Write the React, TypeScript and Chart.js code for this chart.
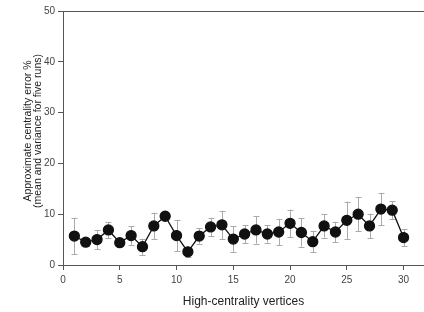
import React, { useEffect, useRef } from "react";
import { Chart, registerables } from "chart.js";

Chart.register(...registerables);

const vertices = [1,2,3,4,5,6,7,8,9,10,11,12,13,14,15,16,17,18,19,20,21,22,23,24,25,26,27,28,29,30];
const meanError = [5.7,4.5,5.0,6.9,4.4,5.8,3.6,7.7,9.6,5.8,2.6,5.7,7.5,7.9,5.1,6.1,6.9,6.1,6.5,8.2,6.4,4.6,7.7,6.5,8.8,10.0,7.7,11.0,10.8,5.4];
const errorSpread = [3.6,0.7,1.9,1.6,0.6,1.8,1.6,2.6,0.8,3.1,1.0,1.5,1.8,2.8,2.5,1.8,2.7,1.7,2.6,2.7,2.8,2.1,2.3,2.0,3.7,3.4,2.4,3.2,1.8,1.7];
const xTicks = [0,5,10,15,20,25,30];
const yTicks = [0,10,20,30,40,50];

const xTitle = "High-centrality vertices";
const yTitle = ["Approximate centrality error %", "(mean and variance for five runs)"];

const AXIS = "#555555";
const FONT = "'Liberation Sans', Arial, sans-serif";

const errorBarPlugin = {
  id: "errorBars",
  beforeDatasetsDraw(chart: any) {
    const { ctx, scales } = chart;
    const xs = scales.x, ys = scales.y;
    ctx.save();
    ctx.strokeStyle = "#aaaaaa";
    ctx.lineWidth = 1;
    vertices.forEach((v, i) => {
      const px = Math.round(xs.getPixelForValue(v)) + 0.5;
      const top = ys.getPixelForValue(meanError[i] + errorSpread[i]);
      const bot = ys.getPixelForValue(meanError[i] - errorSpread[i]);
      ctx.beginPath();
      ctx.moveTo(px, top); ctx.lineTo(px, bot);
      ctx.moveTo(px - 3, Math.round(top) + 0.5); ctx.lineTo(px + 3, Math.round(top) + 0.5);
      ctx.moveTo(px - 3, Math.round(bot) + 0.5); ctx.lineTo(px + 3, Math.round(bot) + 0.5);
      ctx.stroke();
    });
    ctx.restore();
  },
};

const framePlugin = {
  id: "frame",
  afterDraw(chart: any) {
    const { ctx, chartArea } = chart;
    ctx.save();
    ctx.strokeStyle = AXIS;
    ctx.lineWidth = 1;
    ctx.beginPath();
    const y = Math.round(chartArea.top) + 0.5;
    ctx.moveTo(chartArea.left, y);
    ctx.lineTo(chartArea.right, y);
    ctx.stroke();
    // y-axis title (two lines)
    ctx.fillStyle = "#222";
    ctx.font = `10.5px ${FONT}`;
    ctx.textAlign = "center";
    ctx.textBaseline = "middle";
    ctx.translate(28.5, 131);
    ctx.rotate(-Math.PI / 2);
    ctx.fillText(yTitle[0], 0, 0);
    ctx.fillText(yTitle[1], 0, 10);
    ctx.restore();
  },
};

export default function App() {
  const ref = useRef<HTMLCanvasElement>(null);
  useEffect(() => {
    if (!ref.current) return;
    const chart = new Chart(ref.current, {
      type: "line",
      data: {
        datasets: [
          {
            data: vertices.map((v, i) => ({ x: v, y: meanError[i] })),
            borderColor: "#111111",
            backgroundColor: "#111111",
            borderWidth: 1.3,
            pointRadius: 5,
            pointBackgroundColor: "#111111",
            pointBorderColor: "#111111",
            tension: 0,
          },
        ],
      },
      options: {
        animation: false,
        responsive: false,
        maintainAspectRatio: false,
        layout: { autoPadding: false, padding: { top: 11, right: 0, left: 0, bottom: 0 } },
        plugins: { legend: { display: false }, tooltip: { enabled: false } },
        scales: {
          x: {
            type: "linear",
            min: 0,
            max: 31.8,
            afterBuildTicks: (s: any) => { s.ticks = xTicks.map((v) => ({ value: v })); },
            afterFit: (s: any) => { s.height = 47; s.paddingRight = 0; s.paddingLeft = 0; },
            grid: { display: true, drawOnChartArea: false, drawTicks: true, tickLength: 5, color: AXIS },
            border: { display: true, color: AXIS, width: 1 },
            ticks: { color: "#444", font: { family: FONT, size: 10 }, padding: 4, maxRotation: 0 },
            title: { display: true, text: xTitle, color: "#222", font: { family: FONT, size: 12 }, padding: { top: 0, bottom: 3 } },
          },
          y: {
            type: "linear",
            min: 0,
            max: 50,
            afterBuildTicks: (s: any) => { s.ticks = yTicks.map((v) => ({ value: v })); },
            afterFit: (s: any) => { s.width = 63; },
            grid: { display: true, drawOnChartArea: false, drawTicks: true, tickLength: 5, color: AXIS },
            border: { display: true, color: AXIS, width: 1 },
            ticks: { color: "#444", font: { family: FONT, size: 10 }, padding: 3 },
            title: { display: false },
          },
        },
      },
      plugins: [errorBarPlugin, framePlugin],
    });
    return () => chart.destroy();
  }, []);
  return (
    <div style={{ position: "absolute", left: 0, top: 0, width: 424, height: 312 }}>
      <canvas ref={ref} width={424} height={312} style={{ width: 424, height: 312 }} />
    </div>
  );
}
